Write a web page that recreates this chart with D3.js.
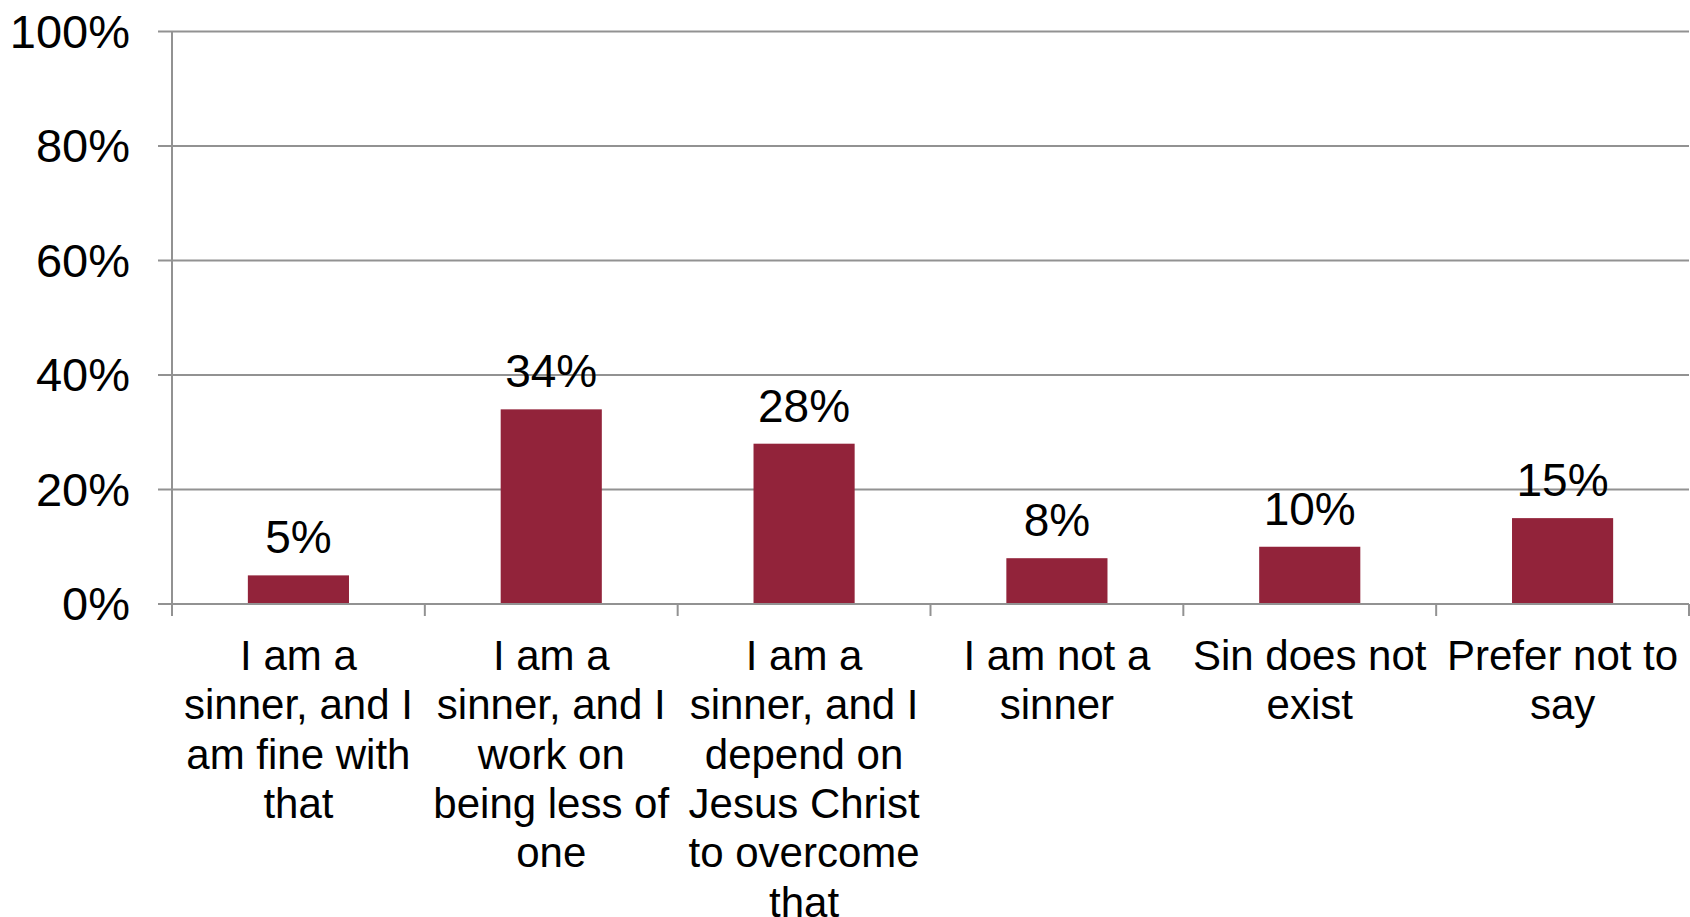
<!DOCTYPE html>
<html>
<head>
<meta charset="utf-8">
<script src="https://cdn.jsdelivr.net/npm/d3@7"></script>
<style>
  html, body { margin: 0; padding: 0; background: #fff; }
  svg { display: block; font-family: "Liberation Sans", Arial, sans-serif; }
</style>
</head>
<body>
<div id="container"></div>
<script>
/** DATA */
const categories = ["c1", "c2", "c3", "c4", "c5", "c6"];
const categoryLines = [
  ["I am a", "sinner, and I", "am fine with", "that"],
  ["I am a", "sinner, and I", "work on", "being less of", "one"],
  ["I am a", "sinner, and I", "depend on", "Jesus Christ", "to overcome", "that"],
  ["I am not a", "sinner"],
  ["Sin does not", "exist"],
  ["Prefer not to", "say"]
];
const values = [5, 34, 28, 8, 10, 15];
const yTicks = [0, 20, 40, 60, 80, 100];

/** CONSTANTS */
const width = 1690,
  height = 917,
  margin = { top: 31.5, bottom: 313, left: 172, right: 1 };

const svg = d3.select("#container")
  .append("svg")
  .attr("width", width)
  .attr("height", height);

const x = d3.scaleBand()
  .domain(categories)
  .range([margin.left, width - margin.right])
  .paddingInner(0.6)
  .paddingOuter(0.3);

const xOuter = d3.scaleBand()
  .domain(categories)
  .range([margin.left, width - margin.right]);

const y = d3.scaleLinear()
  .domain([0, 100])
  .range([height - margin.bottom, margin.top]);

const gridColor = "#929292";

// gridlines + y labels
const yAxis = svg.append("g");
yAxis.selectAll("line")
  .data(yTicks)
  .join("line")
  .attr("x1", margin.left - 14)
  .attr("x2", width - margin.right)
  .attr("y1", d => y(d))
  .attr("y2", d => y(d))
  .attr("stroke", gridColor)
  .attr("stroke-width", 2);

yAxis.selectAll("text")
  .data(yTicks)
  .join("text")
  .attr("x", margin.left - 42)
  .attr("y", d => y(d))
  .attr("dy", "0.35em")
  .attr("text-anchor", "end")
  .attr("font-size", 47)
  .attr("fill", "#000")
  .text(d => d + "%");

// y axis line
svg.append("line")
  .attr("x1", margin.left)
  .attr("x2", margin.left)
  .attr("y1", y(100))
  .attr("y2", y(0) + 12)
  .attr("stroke", gridColor)
  .attr("stroke-width", 2);

// x ticks at category boundaries
const bounds = categories.map(c => xOuter(c) + xOuter.bandwidth());
svg.append("g")
  .selectAll("line")
  .data(bounds)
  .join("line")
  .attr("x1", d => d)
  .attr("x2", d => d)
  .attr("y1", y(0))
  .attr("y2", y(0) + 12)
  .attr("stroke", gridColor)
  .attr("stroke-width", 2);

// bars
svg.append("g")
  .selectAll("rect")
  .data(values)
  .join("rect")
  .attr("x", (d, i) => x(categories[i]))
  .attr("width", x.bandwidth())
  .attr("y", d => y(d))
  .attr("height", d => y(0) - y(d) - 1)
  .attr("fill", "#92233a");

// value labels
svg.append("g")
  .selectAll("text")
  .data(values)
  .join("text")
  .attr("x", (d, i) => x(categories[i]) + x.bandwidth() / 2)
  .attr("y", d => y(d) - 22)
  .attr("text-anchor", "middle")
  .attr("font-size", 46)
  .attr("fill", "#000")
  .text(d => d + "%");

// category labels
const catLabels = svg.append("g")
  .selectAll("text")
  .data(categoryLines)
  .join("text")
  .attr("x", (d, i) => xOuter(categories[i]) + xOuter.bandwidth() / 2)
  .attr("y", 670)
  .attr("text-anchor", "middle")
  .attr("font-size", 42)
  .attr("fill", "#000");

catLabels.selectAll("tspan")
  .data(d => d)
  .join("tspan")
  .attr("x", function () { return d3.select(this.parentNode).attr("x"); })
  .attr("dy", (d, i) => i === 0 ? 0 : 49.3)
  .text(d => d);
</script>
</body>
</html>
